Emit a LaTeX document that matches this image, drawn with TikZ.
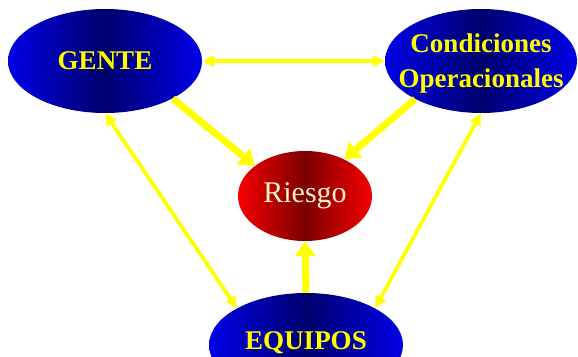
\documentclass[tikz,border=0pt]{standalone}
\usepackage{fontspec}
\setmainfont{Liberation Serif}
\usetikzlibrary{shapes.geometric,arrows.meta}

\definecolor{edgeblue}{RGB}{0,0,232}
\definecolor{midblue}{RGB}{0,0,110}
\definecolor{edgered}{RGB}{245,0,0}
\definecolor{midred}{RGB}{125,0,0}
\definecolor{arrowyellow}{RGB}{255,255,0}
\definecolor{cream}{RGB}{255,244,200}

\tikzset{
  factor/.style={ellipse, inner sep=0pt, minimum width=194pt, minimum height=104pt,
    left color=edgeblue, right color=edgeblue, middle color=midblue,
    text=arrowyellow, font=\fontsize{27}{35}\selectfont\bfseries, align=center},
  risk/.style={ellipse, inner sep=0pt, minimum width=134pt, minimum height=90pt,
    left color=edgered, right color=edgered, middle color=midred,
    text=cream, font=\fontsize{30}{36}\selectfont},
  link/.style={arrowyellow, line width=3.8pt,
    {Triangle[length=12pt,width=11pt]}-{Triangle[length=12pt,width=11pt]}},
  push/.style={arrowyellow, line width=7pt, -{Triangle[length=15pt,width=20pt]}}
}

\begin{document}
\begin{tikzpicture}[x=1pt, y=-1pt]
      \useasboundingbox (0, 0) rectangle (578, 356);

      \node[factor] (gente) at (105, 61) {GENTE};
      \node[factor, minimum width=192pt] (cond) at (481, 61) {};
        \node[text=arrowyellow, font=\fontsize{27}{35}\selectfont\bfseries, align=center] (condtxt) at (481, 64) {Condiciones\\Operacionales};
      \node[risk] (riesgo) at (305, 196) {Riesgo};
      \node[factor] (equipos) at (306, 345) {};
        \node[inner sep=0pt, text=arrowyellow, font=\fontsize{27}{35}\selectfont\bfseries] (equipostxt) at (306, 343) {EQUIPOS};

      % double links between the three factors
      \draw[link] (gente.east) -- (cond.west);
      \draw[link] (gente.south) -- (equipos.152);
      \draw[link] (cond.south) -- (equipos.28);

      % each factor pushes the risk
      \draw[push] (gente.-29) -- (riesgo.149);
      \draw[push] (cond.210) -- (riesgo.43);
      \draw[push] (equipos.north) -- (riesgo.south);
    \end{tikzpicture}
\end{document}
